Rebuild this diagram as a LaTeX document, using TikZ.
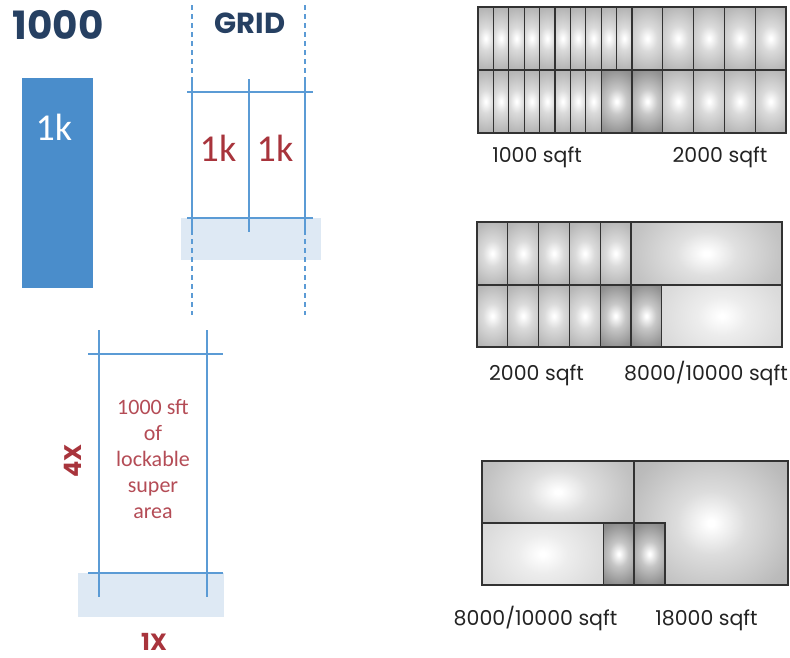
\documentclass[tikz,border=0pt]{standalone}
\usepackage{fontspec}
\setmainfont{Carlito}
\newfontfamily\geo{Poppins}
\definecolor{navy}{RGB}{38,64,98}
\definecolor{lineblue}{RGB}{91,155,213}
\definecolor{boxblue}{RGB}{74,141,203}
\definecolor{paleblue}{RGB}{222,233,244}
\definecolor{brick}{RGB}{168,52,60}
\definecolor{rose}{RGB}{180,76,86}
\definecolor{cellline}{RGB}{50,50,50}
\definecolor{labelgray}{RGB}{35,35,35}
\definecolor{cellout}{RGB}{160,160,160}
\pgfdeclareradialshading[cellout]{cellshade}{\pgfpoint{0bp}{0bp}}{color(0bp)=(white);color(0.6bp)=(white);color(6bp)=(cellout!40!white);color(15bp)=(cellout!78!white);color(25bp)=(cellout);color(36bp)=(cellout!85!black);color(72bp)=(cellout!60!black)}
\newcommand\gcell[5]{%
  \colorlet{cellout}{#5}%
  \pgfmathsetmacro\gw{(#3)-(#1)}\pgfmathsetmacro\gh{(#4)-(#2)}%
  \pgfmathsetmacro\ga{\gw+0.3*(\gh-\gw)}\pgfmathsetmacro\gb{\gh+0.3*(\gw-\gh)}%
  \pgfmathsetmacro\gx{((#1)+(#3))/2}\pgfmathsetmacro\gy{((#2)+(#4))/2}%
  \begin{scope}
    \clip (#1,#2) rectangle (#3,#4);
    \shade[shading=cellshade] (\gx-\ga,\gy-\gb) rectangle (\gx+\ga,\gy+\gb);
  \end{scope}
  \draw[cellline,line width=1.2pt] (#1,#2) rectangle (#3,#4);}
\tikzset{
  blueln/.style={draw=lineblue,line width=1.6pt},
  dashln/.style={draw=lineblue,line width=1.6pt,dash pattern=on 5pt off 4pt},
  sqlabel/.style={anchor=base,text=labelgray,font=\geo\fontsize{20.5}{22}\selectfont,inner sep=0pt},
  redtext/.style={anchor=base,text=rose,font=\fontsize{22}{24}\selectfont,inner sep=0pt}
}
\begin{document}
\begin{tikzpicture}[x=1pt,y=-1pt]
\useasboundingbox (0,0) rectangle (790,657);
% ---------- left top ----------
\node[anchor=base,text=navy,font=\geo\bfseries\fontsize{39}{44}\selectfont,inner sep=0pt] (t1000) at (58,39) {1000};
\fill[boxblue] (22,78) rectangle (93,288);
\node[anchor=base,text=white,font=\fontsize{38}{40}\selectfont,inner sep=0pt] (onek) at (54,140) {1k};
% grid
\node[anchor=base,text=navy,font=\geo\bfseries\fontsize{29}{32}\selectfont,inner sep=0pt] (grid) at (250,33) {GRID};
\fill[paleblue] (181,218) rectangle (321,260);
\draw[blueln] (192,79) -- (192,232);
\draw[blueln] (305,79) -- (305,232);
\draw[blueln] (249,79) -- (249,232);
\draw[blueln] (187,92) -- (313,92);
\draw[blueln] (187,218) -- (313,218);
\draw[dashln] (192,5) -- (192,315);
\draw[dashln] (305,5) -- (305,315);
\node[anchor=base,text=brick,font=\fontsize{38}{40}\selectfont,inner sep=0pt] (k1) at (218,161) {1k};
\node[anchor=base,text=brick,font=\fontsize{38}{40}\selectfont,inner sep=0pt] (k2) at (275,161) {1k};
% ---------- left bottom ----------
\fill[paleblue] (78,573) rectangle (224,617);
\draw[blueln] (99,330) -- (99,597);
\draw[blueln] (207,330) -- (207,597);
\draw[blueln] (88,354) -- (223,354);
\draw[blueln] (88,573) -- (223,573);
\node[redtext] (l1) at (153,414) {1000 sft};
\node[redtext] (l2) at (153,440.2) {of};
\node[redtext] (l3) at (153,466.4) {lockable};
\node[redtext] (l4) at (153,492.6) {super};
\node[redtext] (l5) at (153,518.8) {area};
\node[text=brick,font=\geo\bfseries\fontsize{24}{26}\selectfont,inner sep=0pt,rotate=90] (fourx) at (73,461) {4X};
\node[anchor=base,text=brick,font=\geo\bfseries\fontsize{23.5}{26}\selectfont,inner sep=0pt,text depth=0pt] (onex) at (154,650) {1X};
% ---------- panel 1 ----------
\foreach \i in {0,...,9} {\gcell{478+15.4*\i}{7}{493.4+15.4*\i}{70}{black!36}}
\foreach \i in {0,...,4} {\gcell{632+30.8*\i}{7}{662.8+30.8*\i}{70}{black!36}}
\foreach \i in {0,...,7} {\gcell{478+15.4*\i}{70}{493.4+15.4*\i}{133}{black!36}}
\gcell{601.2}{70}{632}{133}{black!55}
\gcell{632}{70}{662.8}{133}{black!55}
\foreach \i in {0,...,3} {\gcell{662.8+30.8*\i}{70}{693.6+30.8*\i}{133}{black!36}}
\node[sqlabel] (p1a) at (537,162) {1000 sqft};
\node[sqlabel] (p1b) at (720,162) {2000 sqft};
% ---------- panel 2 ----------
\foreach \i in {0,...,4} {\gcell{477+30.8*\i}{222}{507.8+30.8*\i}{285}{black!36}}
\gcell{631}{222}{782}{285}{black!30}
\foreach \i in {0,...,3} {\gcell{477+30.8*\i}{285}{507.8+30.8*\i}{347}{black!36}}
\gcell{600.2}{285}{631}{347}{black!55}
\gcell{631}{285}{661.8}{347}{black!55}
\gcell{661.8}{285}{782}{347}{black!18}
\node[sqlabel] (p2a) at (536.5,380.5) {2000 sqft};
\node[sqlabel] (p2b) at (706,380.5) {8000/10000 sqft};
% ---------- panel 3 ----------
\gcell{634}{461}{788}{585}{black!34}
\gcell{482}{461}{634}{523}{black!31}
\gcell{482}{523}{603.5}{585}{black!18}
\gcell{603.5}{523}{634}{585}{black!57}
\gcell{634}{523}{665}{585}{black!57}
\node[sqlabel] (p3a) at (535.5,625) {8000/10000 sqft};
\node[sqlabel] (p3b) at (706.5,625) {18000 sqft};
\end{tikzpicture}
\end{document}
